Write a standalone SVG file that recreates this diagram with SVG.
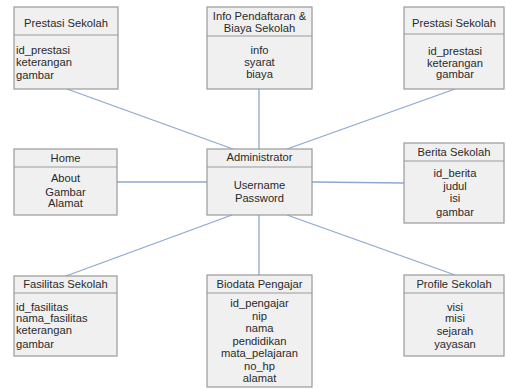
<svg xmlns="http://www.w3.org/2000/svg" width="506" height="389" viewBox="0 0 506 389">
<style>
.box{fill:#f0f0f0;stroke:#9a9a9a;stroke-width:1.2}
.div{stroke:#9a9a9a;stroke-width:1.2}
text{font-family:"Liberation Sans",Arial,sans-serif;font-size:11.2px;fill:#2a2a2a}
.c{text-anchor:middle}
.conn line{stroke:#8ea8cc;stroke-width:1.3}
</style>
<rect width="506" height="389" fill="#ffffff"/>
<g class="conn" id="connectors">
<line x1="67" y1="89" x2="233" y2="149"/>
<line x1="259" y1="89" x2="259" y2="149"/>
<line x1="455" y1="89" x2="287" y2="149"/>
<line x1="117" y1="182" x2="207" y2="182"/>
<line x1="312" y1="182" x2="404" y2="183"/>
<line x1="66" y1="276" x2="232" y2="215"/>
<line x1="259" y1="215" x2="259" y2="275"/>
<line x1="287" y1="215" x2="455" y2="275"/>
</g>
<g id="prestasi1">
<rect class="box" x="14" y="7" width="104" height="82"/>
<line class="div" x1="14" y1="35" x2="118" y2="35"/>
<text class="c" x="66" y="27">Prestasi Sekolah</text>
<text x="16" y="54">id_prestasi</text>
<text x="16" y="66">keterangan</text>
<text x="16" y="79">gambar</text>
</g>
<g id="info">
<rect class="box" x="207" y="7" width="105" height="82"/>
<line class="div" x1="207" y1="36" x2="312" y2="36"/>
<text class="c" x="259.5" y="20">Info Pendaftaran &amp;</text>
<text class="c" x="259.5" y="32">Biaya Sekolah</text>
<text class="c" x="259.5" y="54">info</text>
<text class="c" x="259.5" y="66">syarat</text>
<text class="c" x="259.5" y="78">biaya</text>
</g>
<g id="prestasi2">
<rect class="box" x="404" y="7" width="100" height="82"/>
<line class="div" x1="404" y1="34" x2="504" y2="34"/>
<text class="c" x="454" y="27">Prestasi Sekolah</text>
<text class="c" x="455" y="55">id_prestasi</text>
<text class="c" x="455" y="67">keterangan</text>
<text class="c" x="455" y="78">gambar</text>
</g>
<g id="home">
<rect class="box" x="14" y="149" width="103" height="66"/>
<line class="div" x1="14" y1="167" x2="117" y2="167"/>
<text class="c" x="65.5" y="162">Home</text>
<text class="c" x="65.5" y="182">About</text>
<text class="c" x="65.5" y="196">Gambar</text>
<text class="c" x="65.5" y="207">Alamat</text>
</g>
<g id="admin">
<rect class="box" x="207" y="149" width="105" height="66"/>
<line class="div" x1="207" y1="167" x2="312" y2="167"/>
<text class="c" x="259.5" y="161">Administrator</text>
<text class="c" x="259.5" y="189">Username</text>
<text class="c" x="259.5" y="202">Password</text>
</g>
<g id="berita">
<rect class="box" x="404" y="143" width="100" height="80"/>
<line class="div" x1="404" y1="161" x2="504" y2="161"/>
<text class="c" x="454" y="156">Berita Sekolah</text>
<text class="c" x="455" y="177">id_berita</text>
<text class="c" x="455" y="190">judul</text>
<text class="c" x="455" y="202">isi</text>
<text class="c" x="455" y="216">gambar</text>
</g>
<g id="fasilitas">
<rect class="box" x="14" y="276" width="103" height="80"/>
<line class="div" x1="14" y1="293" x2="117" y2="293"/>
<text class="c" x="65.5" y="288">Fasilitas Sekolah</text>
<text x="16" y="311">id_fasilitas</text>
<text x="16" y="322">nama_fasilitas</text>
<text x="16" y="334">keterangan</text>
<text x="16" y="348">gambar</text>
</g>
<g id="biodata">
<rect class="box" x="207" y="275" width="105" height="112"/>
<line class="div" x1="207" y1="293" x2="312" y2="293"/>
<text class="c" x="259.5" y="288">Biodata Pengajar</text>
<text class="c" x="259.5" y="307">id_pengajar</text>
<text class="c" x="259.5" y="320">nip</text>
<text class="c" x="259.5" y="332">nama</text>
<text class="c" x="259.5" y="345">pendidikan</text>
<text class="c" x="259.5" y="357">mata_pelajaran</text>
<text class="c" x="259.5" y="370">no_hp</text>
<text class="c" x="259.5" y="382">alamat</text>
</g>
<g id="profile">
<rect class="box" x="404" y="275" width="100" height="81"/>
<line class="div" x1="404" y1="293" x2="504" y2="293"/>
<text class="c" x="454" y="288">Profile Sekolah</text>
<text class="c" x="455" y="311">visi</text>
<text class="c" x="455" y="322">misi</text>
<text class="c" x="455" y="335">sejarah</text>
<text class="c" x="455" y="348">yayasan</text>
</g>
</svg>
